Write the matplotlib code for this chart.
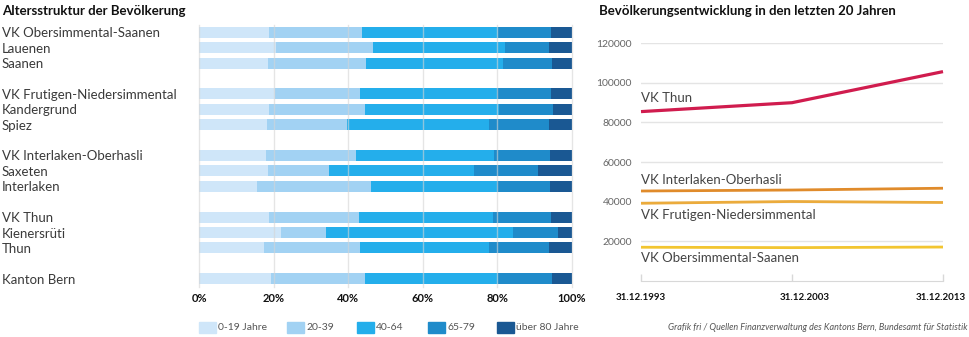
import matplotlib.pyplot as plt
from matplotlib.patches import Rectangle
from matplotlib.transforms import blended_transform_factory

plt.rcParams['font.family'] = ['Lato', 'DejaVu Sans']

# --- Altersstruktur (Anteile in %) ---
groups = [
    ['VK Obersimmental-Saanen', 'Lauenen', 'Saanen'],
    ['VK Frutigen-Niedersimmental', 'Kandergrund', 'Spiez'],
    ['VK Interlaken-Oberhasli', 'Saxeten', 'Interlaken'],
    ['VK Thun', 'Kienersrüti', 'Thun'],
    ['Kanton Bern'],
]
age_classes = ['0-19 Jahre', '20-39', '40-64', '65-79', 'über 80 Jahre']
age_0_19 = [18.7, 20.6, 18.5, 20.3, 18.8, 18.3, 18.0, 18.4, 15.6, 18.9, 22.1, 17.4, 19.2]
age_20_39 = [25.1, 26.1, 26.3, 22.9, 25.8, 21.3, 24.1, 16.4, 30.4, 23.9, 11.9, 25.8, 25.4]
age_40_64 = [36.4, 35.3, 36.6, 36.6, 35.9, 38.1, 37.0, 38.9, 33.8, 36.1, 50.3, 34.6, 35.6]
age_65_79 = [14.1, 11.9, 13.3, 14.6, 14.5, 16.0, 15.0, 17.3, 14.4, 15.5, 11.9, 16.1, 14.4]
age_80plus = [5.7, 6.1, 5.3, 5.6, 5.0, 6.3, 5.9, 9.0, 5.8, 5.6, 3.8, 6.1, 5.4]
age_colors = ['#cfe6f9', '#a2d2f3', '#24aeeb', '#1f8bca', '#1a5893']

# --- Bevölkerungsentwicklung ---
years = ['31.12.1993', '31.12.2003', '31.12.2013']
pop_thun = [85500, 90000, 105700]
pop_interlaken = [45400, 45900, 46800]
pop_frutigen = [39200, 40100, 39600]
pop_obersimmental = [17000, 16800, 17100]

W, H = 969, 337
fig = plt.figure(figsize=(W / 100, H / 100), dpi=100)

def fx(px):
    return px / W

def fy(py):
    return 1 - py / H

# ---------- left: stacked bars ----------
labels, ypos = [], []
slot = 0
for g in groups:
    for name in g:
        labels.append(name)
        ypos.append(slot)
        slot += 1
    slot += 1

ax = fig.add_axes([fx(199), fy(286.5), fx(572) - fx(199), fy(24.5) - fy(286.5)])
series = [age_0_19, age_20_39, age_40_64, age_65_79, age_80plus]
left = [0.0] * len(labels)
for vals, col, name in zip(series, age_colors, age_classes):
    ax.barh(ypos, vals, left=left, height=0.71, color=col, label=name, zorder=2)
    left = [a + b for a, b in zip(left, vals)]

ax.set_xlim(0, 100)
ax.set_ylim(ypos[-1] + 0.5, -0.5)
for x in range(0, 101, 20):
    ax.axvline(x, color='#d5d5d5', lw=1, alpha=0.6, zorder=3, clip_on=False)
for s in ax.spines.values():
    s.set_visible(False)
ax.set_xticks(range(0, 101, 20))
ax.set_xticklabels([f'{x}%' for x in range(0, 101, 20)], fontweight='bold', fontsize=8, color='#111111')
ax.set_yticks(ypos)
ax.set_yticklabels(labels, fontsize=9.5, color='#3a3a3a')
ax.tick_params(axis='both', length=0)
ax.tick_params(axis='x', pad=5)
ax.tick_params(axis='y', pad=(199 - 2) * 0.72)
for lab in ax.get_yticklabels():
    lab.set_horizontalalignment('left')

fig.text(fx(2), fy(11), 'Altersstruktur der Bevölkerung', fontsize=9.5, fontweight='bold',
         color='#111111', va='center', ha='left')

# legend keys
leg_x = [199, 287, 357, 428, 497]
for x0, col, name in zip(leg_x, age_colors, age_classes):
    fig.patches.append(Rectangle((fx(x0), fy(333)), fx(17), fy(322) - fy(333),
                                 transform=fig.transFigure, color=col))
    fig.text(fx(x0 + 19), fy(327.5), name, fontsize=7.5, color='#555555', va='center', ha='left')

# ---------- right: line chart ----------
ax2 = fig.add_axes([fx(641), fy(280.9), fx(943) - fx(641), fy(43.3) - fy(280.9)])
xs = range(len(years))
lines = [
    (pop_thun, '#d01c4e', 2.3, 'VK Thun'),
    (pop_interlaken, '#e08b2b', 2.0, 'VK Interlaken-Oberhasli'),
    (pop_frutigen, '#ebab3c', 2.0, 'VK Frutigen-Niedersimmental'),
    (pop_obersimmental, '#f2c530', 2.0, 'VK Obersimmental-Saanen'),
]
for vals, col, lw, name in lines:
    ax2.plot(xs, vals, color=col, lw=lw, solid_capstyle='butt', zorder=3, clip_on=False)

ax2.set_xlim(0, 2)
ax2.set_ylim(0, 120000)
ax2.set_yticks(range(20000, 120001, 20000))
ax2.set_yticklabels([str(v) for v in range(20000, 120001, 20000)], fontsize=7.5, color='#666666')
ax2.grid(axis='y', color='#e4e4e4', lw=1)
ax2.set_axisbelow(True)
for name in ['top', 'right', 'left']:
    ax2.spines[name].set_visible(False)
ax2.spines['bottom'].set_color('#d8d8d8')
ax2.tick_params(axis='y', length=0, pad=6.5)
ax2.set_xticks(list(xs))
ax2.set_xticklabels([])
ax2.tick_params(axis='x', direction='in', length=5, color='#d8d8d8', width=1)

# date labels below the axis
tr = blended_transform_factory(ax2.transData, fig.transFigure)
for x, txt, dx in zip(xs, years, [0, 0.085, -0.015]):
    ax2.text(x + dx, fy(297), txt, transform=tr, fontsize=7, fontweight='bold',
             color='#111111', ha='center', va='center')

# line labels
line_label_y = [98, 180, 215, 258]
for (vals, col, lw, name), py in zip(lines, line_label_y):
    fig.text(fx(641), fy(py), name, fontsize=9.5, color='#444444', ha='left', va='center')

fig.text(fx(599), fy(11), 'Bevölkerungsentwicklung in den letzten 20 Jahren', fontsize=9.5,
         fontweight='bold', color='#111111', va='center', ha='left')
fig.text(fx(968), fy(327), 'Grafik fri / Quellen Finanzverwaltung des Kantons Bern, Bundesamt für Statistik',
         fontsize=6.5, style='italic', color='#555555', ha='right', va='center')

fig.savefig('out.png', dpi=100, facecolor='white')
